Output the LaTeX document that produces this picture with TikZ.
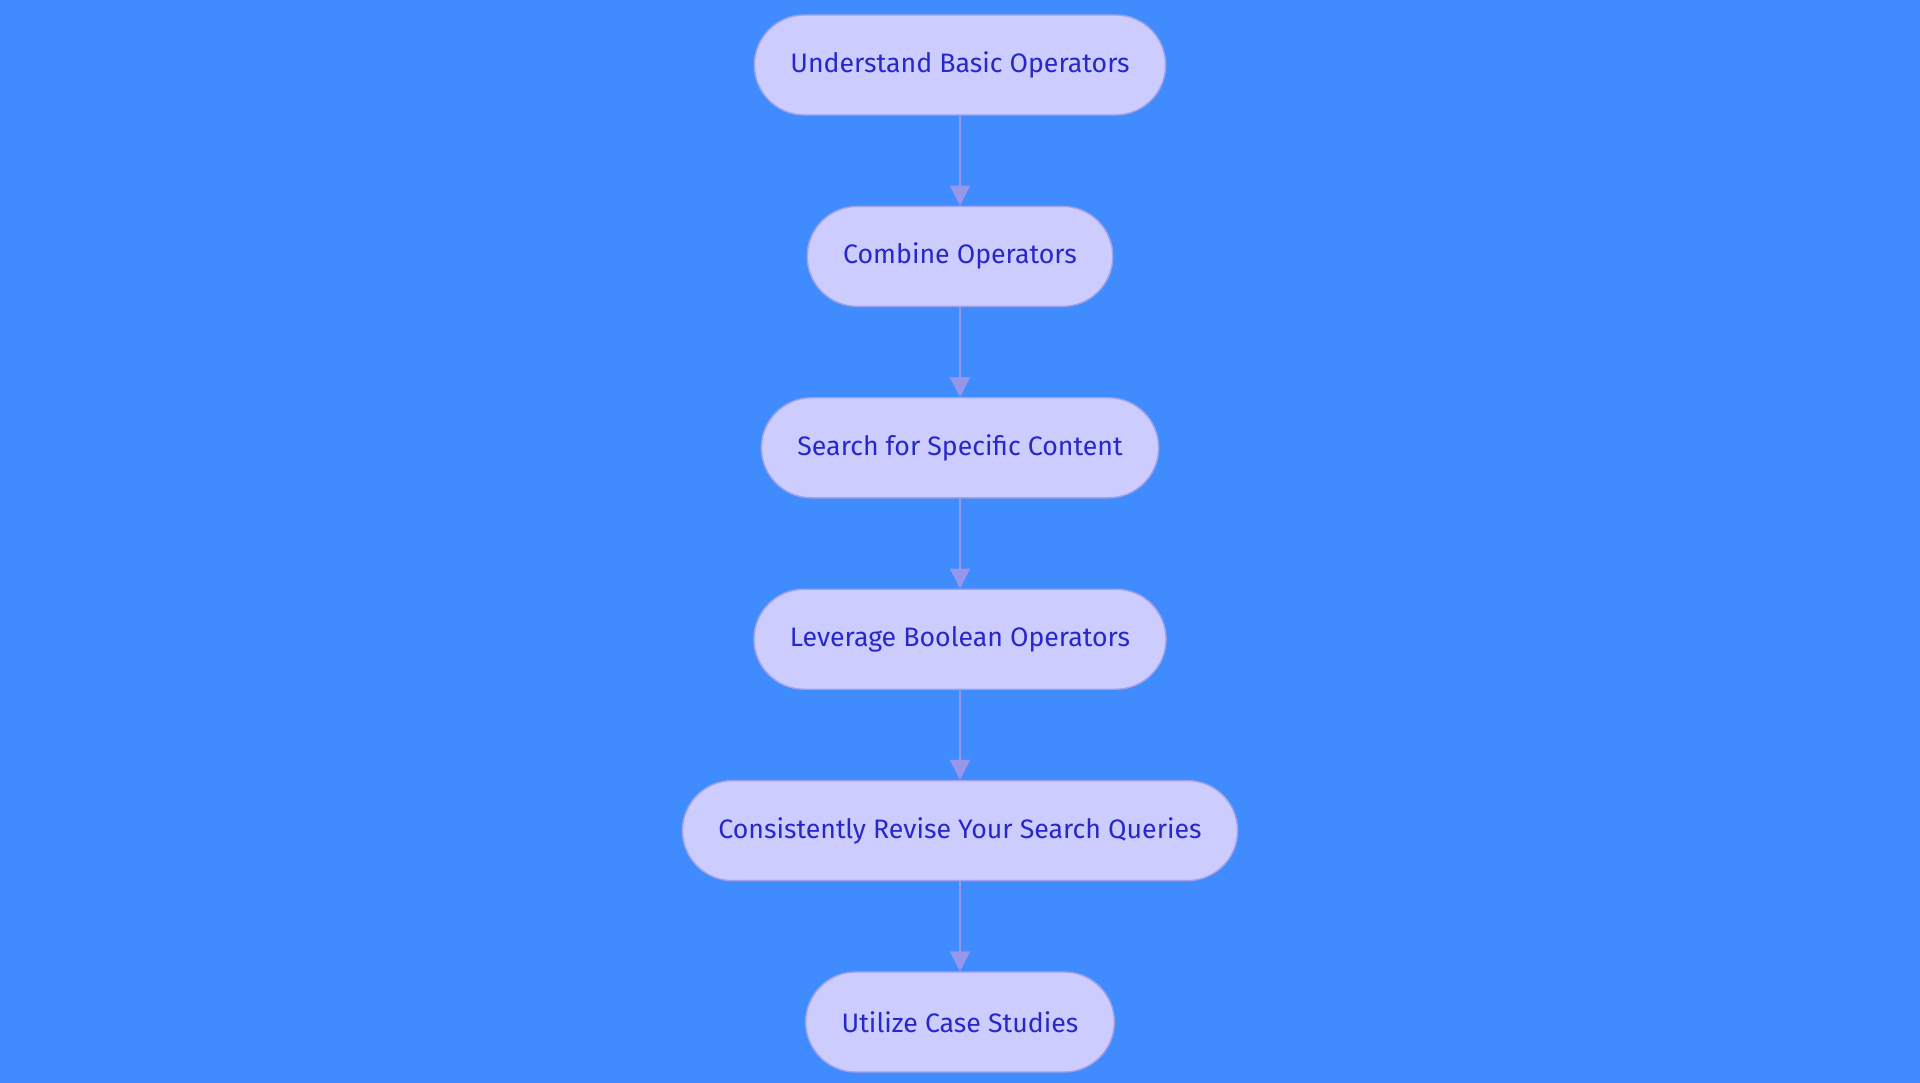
\documentclass[tikz,border=0pt]{standalone}
\usepackage{fontspec}
\setmainfont{Fira Sans}
\usetikzlibrary{positioning, arrows.meta}
\definecolor{bgblue}{RGB}{64, 140, 255}
\definecolor{nodefill}{RGB}{204, 204, 255}
\definecolor{nodeline}{RGB}{160, 160, 235}
\definecolor{nodetext}{RGB}{40, 40, 200}
\definecolor{linkcol}{RGB}{150, 150, 235}

\begin{document}
\begin{tikzpicture}[
    node distance=0.9cm,
    stage/.style={rectangle, draw=nodeline, fill=nodefill, rounded corners=0.5cm, minimum height=1cm, inner xsep=0.36cm, text=nodetext, font=\fontsize{7.6}{9}\selectfont},
    arrow/.style={-{Triangle[length=0.2cm, width=0.2cm]}, linkcol, line width=0.6pt}
]
    \fill[bgblue] (0,0) rectangle (19.2,10.83);
    \useasboundingbox (0,0) rectangle (19.2,10.83);
    \node[stage] (basic) at (9.6,10.18) {Understand Basic Operators};
    \node[stage, below=of basic] (combine) {Combine Operators};
    \node[stage, below=of combine] (specific) {Search for Specific Content};
    \node[stage, below=of specific] (boolean) {Leverage Boolean Operators};
    \node[stage, below=of boolean] (revise) {Consistently Revise Your Search Queries};
    \node[stage, below=of revise] (cases) {Utilize Case Studies};

    \draw[arrow] (basic) -- (combine);
    \draw[arrow] (combine) -- (specific);
    \draw[arrow] (specific) -- (boolean);
    \draw[arrow] (boolean) -- (revise);
    \draw[arrow] (revise) -- (cases);
\end{tikzpicture}
\end{document}
